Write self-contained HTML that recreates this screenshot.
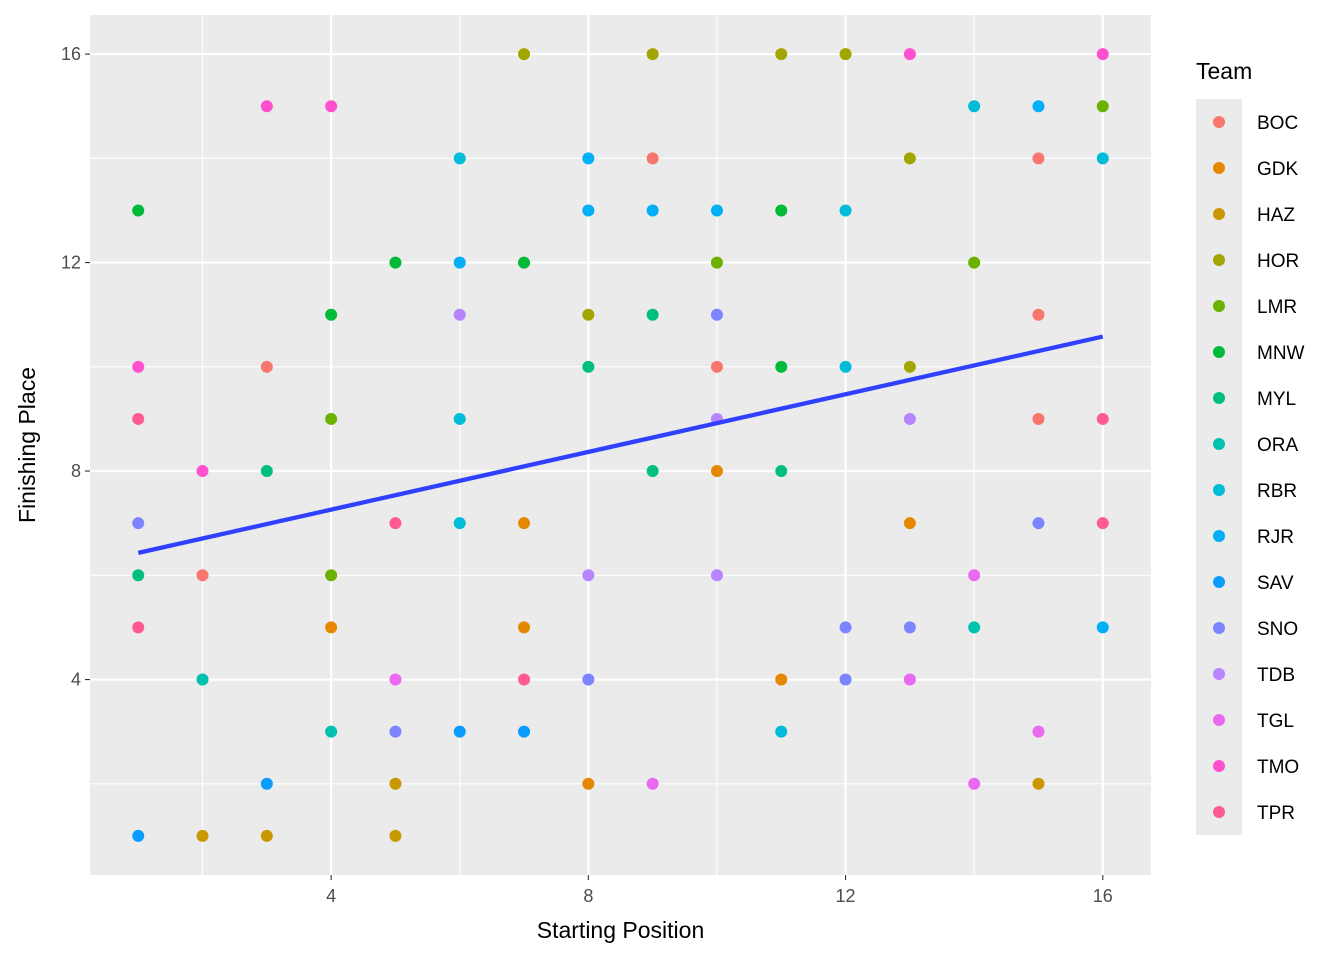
<!DOCTYPE html>
<html><head><meta charset="utf-8"><style>
html,body{margin:0;padding:0;background:#fff;}
svg text{font-family:"Liberation Sans",Arial,sans-serif;}
</style></head><body>
<svg id="chart" width="1344" height="960" xmlns="http://www.w3.org/2000/svg">
<rect x="0" y="0" width="1344" height="960" fill="#fff"/>
<g id="panel"></g>
<g id="axes"></g>
<g id="legend"></g>
</svg>
<script>
const teams = ["BOC","GDK","HAZ","HOR","LMR","MNW","MYL","ORA","RBR","RJR","SAV","SNO","TDB","TGL","TMO","TPR"];
const teamColors = ["#F8766D","#E58700","#C99800","#A3A500","#6BB100","#00BA38","#00BF7D","#00C0AF","#00BCD8","#00B0F6","#0A9BFF","#7C84FF","#B884FF","#E96AF0","#FF50CF","#FF5A93"];
const startPos = [7,9,11,12,13,16, 3,4,14,15,16, 6,8,9,13,15,16, 1,8,9,10,11,12, 5,6,7,10,14, 4,6,8,9,10,15, 1,3,8,10,11,12,13, 1,4,6,10,13,15,16, 2,3,9,10,11, 1,5,6,7,13,15,16, 1,2,4,8,10,14, 1,4,7,12,13,14,16, 2,5,7,8,11,12,13, 4,5,6,7,11,15, 3,5,8,9,14,15, 1,2,3,5];
const finishPlace = [16,16,16,16,16,16, 15,15,15,15,15, 14,14,14,14,14,14, 13,13,13,13,13,13, 12,12,12,12,12, 11,11,11,11,11,11, 10,10,10,10,10,10,10, 9,9,9,9,9,9,9, 8,8,8,8,8, 7,7,7,7,7,7,7, 6,6,6,6,6,6, 5,5,5,5,5,5,5, 4,4,4,4,4,4,4, 3,3,3,3,3,3, 2,2,2,2,2,2, 1,1,1,1];
const pointTeam = ["HOR","HOR","HOR","HOR","TMO","TMO", "TMO","TMO","RBR","RJR","LMR", "RBR","RJR","BOC","HOR","BOC","RBR", "MNW","RJR","RJR","RJR","MNW","RBR", "MNW","RJR","MNW","LMR","LMR", "MNW","TDB","HOR","MYL","SNO","BOC", "TMO","BOC","MYL","BOC","MNW","RBR","HOR", "TPR","LMR","RBR","TDB","TDB","BOC","TPR", "TMO","MYL","MYL","GDK","MYL", "SNO","TPR","RBR","GDK","GDK","SNO","TPR", "MYL","BOC","LMR","TDB","TDB","TGL", "TPR","GDK","GDK","SNO","SNO","ORA","RJR", "ORA","TGL","TPR","SNO","GDK","SNO","TGL", "ORA","SNO","SAV","SAV","RBR","TGL", "SAV","HAZ","GDK","TGL","TGL","HAZ", "SAV","HAZ","HAZ","HAZ"];
const xTicks = [4,8,12,16];
const yTicks = [4,8,12,16];
const fitStart = [1,16];
const fitValue = [6.43,10.58];

const NS="http://www.w3.org/2000/svg";
const P={l:90,r:1151,t:15,b:875};
const xMin=0.25,xMax=16.75,yMin=0.25,yMax=16.75;
const sx=v=>P.l+(v-xMin)/(xMax-xMin)*(P.r-P.l);
const sy=v=>P.b-(v-yMin)/(yMax-yMin)*(P.b-P.t);
function mk(tag,attrs,parent,text){const e=document.createElementNS(NS,tag);for(const k in attrs)e.setAttribute(k,attrs[k]);if(text!==undefined)e.textContent=text;parent.appendChild(e);return e;}
const panel=document.getElementById('panel'),axes=document.getElementById('axes'),legend=document.getElementById('legend');
let bg=mk('rect',{x:P.l,y:P.t,width:P.r-P.l,height:P.b-P.t,fill:'#EBEBEB'},panel);


for(let i=0;i<xTicks.length;i++){
  const mv=xTicks[i]-2;
  let g=mk('line',{x1:sx(mv),x2:sx(mv),y1:P.t,y2:P.b,stroke:'#fff','stroke-width':1.1},panel);
  
  
  let h=mk('line',{x1:P.l,x2:P.r,y1:sy(yTicks[i]-2),y2:sy(yTicks[i]-2),stroke:'#fff','stroke-width':1.1},panel);
  
  
}
xTicks.forEach(v=>{
  let g=mk('line',{x1:sx(v),x2:sx(v),y1:P.t,y2:P.b,stroke:'#fff','stroke-width':2.2},panel);
  
  
  let tk=mk('line',{x1:sx(v),x2:sx(v),y1:P.b,y2:P.b+5,stroke:'#333','stroke-width':1.1},axes);
  
  
  let t=mk('text',{x:sx(v),y:P.b+27,'text-anchor':'middle','font-size':18,fill:'#4D4D4D'},axes,String(v));
  
  
});
yTicks.forEach(v=>{
  let g=mk('line',{x1:P.l,x2:P.r,y1:sy(v),y2:sy(v),stroke:'#fff','stroke-width':2.2},panel);
  
  
  let tk=mk('line',{x1:P.l-5,x2:P.l,y1:sy(v),y2:sy(v),stroke:'#333','stroke-width':1.1},axes);
  
  
  let t=mk('text',{x:P.l-9,y:sy(v)+6,'text-anchor':'end','font-size':18,fill:'#4D4D4D'},axes,String(v));
  
  
});
for(let i=0;i<startPos.length;i++){
  const c=teamColors[teams.indexOf(pointTeam[i])];
  let p=mk('circle',{cx:sx(startPos[i]),cy:sy(finishPlace[i]),r:6,fill:c},panel);
  
  
}
let rl=mk('line',{x1:sx(fitStart[0]),y1:sy(fitValue[0]),x2:sx(fitStart[1]),y2:sy(fitValue[1]),stroke:'#3040FF','stroke-width':4.3},panel);


let xt=mk('text',{x:(P.l+P.r)/2,y:938,'text-anchor':'middle','font-size':23,fill:'#000'},axes,'Starting Position');


let yt=mk('text',{x:0,y:0,transform:'translate(35,445) rotate(-90)','text-anchor':'middle','font-size':23,fill:'#000'},axes,'Finishing Place');


let lt=mk('text',{x:1196,y:79,'font-size':23,fill:'#000'},legend,'Team');


let lb=mk('rect',{x:1196,y:99,width:46,height:736,fill:'#EBEBEB'},legend);


teams.forEach((t,i)=>{
  const y=122+i*46;
  let g=mk('g',{},legend);
  
  
  let c=mk('circle',{cx:1219,cy:y,r:6,fill:teamColors[i]},g);
  
  
  let tx=mk('text',{x:1257,y:y+7,'font-size':19,fill:'#000'},g,t);
  
  
});
</script>
</body></html>
